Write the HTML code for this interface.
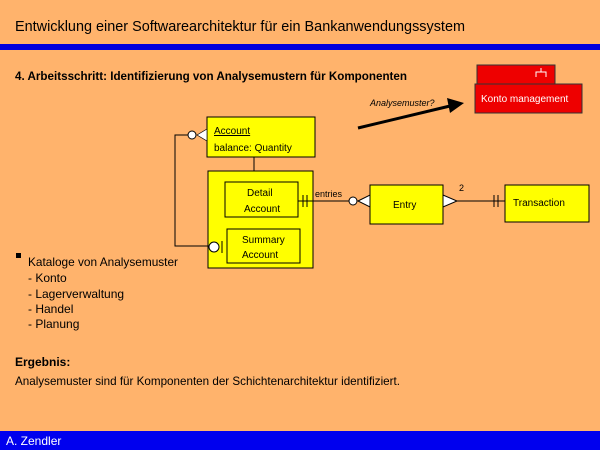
<!DOCTYPE html>
<html><head><meta charset="utf-8"><style>
body{margin:0;width:600px;height:450px;background:#FFB36C;overflow:hidden;font-family:"Liberation Sans",sans-serif}
svg{position:absolute;left:0;top:0}
</style></head><body>
<svg width="600" height="450" viewBox="0 0 600 450" font-family="Liberation Sans, sans-serif">
<rect x="0" y="0" width="600" height="450" fill="#FFB36C"/>
<text x="15" y="31" font-size="15" fill="#000" textLength="450" lengthAdjust="spacingAndGlyphs">Entwicklung einer Softwarearchitektur für ein Bankanwendungssystem</text>
<rect x="0" y="44" width="600" height="6" fill="#0000DD"/>
<text x="15" y="80" font-size="12" font-weight="bold" fill="#000" textLength="392" lengthAdjust="spacingAndGlyphs">4. Arbeitsschritt: Identifizierung von Analysemustern für Komponenten</text>
<rect x="477" y="65" width="78" height="20" fill="#EE0000" stroke="#333" stroke-width="1"/>
<path d="M536 77v-5h10v5M541 72v-4" stroke="#fff" fill="none"/>
<rect x="475" y="84" width="107" height="29" fill="#EE0000" stroke="#333" stroke-width="1"/>
<text x="481" y="102" font-size="10" fill="#fff">Konto management</text>
<text x="370" y="106" font-size="9" font-style="italic" fill="#000">Analysemuster?</text>
<line x1="358" y1="128" x2="450" y2="106" stroke="#000" stroke-width="3"/>
<polygon points="464,103 447,98 450,113" fill="#000"/>
<rect x="207" y="117" width="108" height="40" fill="#FFFF00" stroke="#000"/>
<text x="214" y="134" font-size="10" text-decoration="underline">Account</text>
<text x="214" y="151" font-size="10">balance: Quantity</text>
<line x1="254" y1="157" x2="254" y2="171" stroke="#000"/>
<rect x="208" y="171" width="105" height="97" fill="#FFFF00" stroke="#000"/>
<rect x="225" y="182" width="73" height="35" fill="#FFFF00" stroke="#000"/>
<text x="247" y="196" font-size="10">Detail</text>
<text x="244" y="212" font-size="10">Account</text>
<rect x="227" y="229" width="73" height="34" fill="#FFFF00" stroke="#000"/>
<text x="242" y="243" font-size="10">Summary</text>
<text x="242" y="258" font-size="10">Account</text>
<polyline points="191,135 175,135 175,246 209,246" fill="none" stroke="#000"/>
<circle cx="192" cy="135" r="4" fill="#fff" stroke="#000"/>
<polygon points="197,135 207,129 207,141" fill="#fff" stroke="#000" stroke-width="0.7"/>
<circle cx="214" cy="247" r="5" fill="#fff" stroke="#000"/>
<line x1="222" y1="241" x2="222" y2="253" stroke="#000"/>
<line x1="298" y1="201" x2="350" y2="201" stroke="#000"/>
<line x1="303" y1="195" x2="303" y2="207" stroke="#000"/>
<line x1="307" y1="195" x2="307" y2="207" stroke="#000"/>
<text x="315" y="197" font-size="9">entries</text>
<circle cx="353" cy="201" r="4" fill="#fff" stroke="#000"/>
<polygon points="358,201 370,195 370,207" fill="#fff" stroke="#000"/>
<rect x="370" y="185" width="73" height="39" fill="#FFFF00" stroke="#000"/>
<text x="393" y="208" font-size="10">Entry</text>
<polygon points="443,195 443,207 457,201" fill="#fff" stroke="#000"/>
<line x1="457" y1="201" x2="505" y2="201" stroke="#000"/>
<line x1="494" y1="195" x2="494" y2="207" stroke="#000"/>
<line x1="498" y1="195" x2="498" y2="207" stroke="#000"/>
<text x="459" y="191" font-size="9">2</text>
<rect x="505" y="185" width="84" height="37" fill="#FFFF00" stroke="#000"/>
<text x="513" y="206" font-size="10">Transaction</text>
<rect x="16" y="253" width="5" height="5" fill="#000"/>
<text x="28" y="266" font-size="12" textLength="150" lengthAdjust="spacingAndGlyphs">Kataloge von Analysemuster</text>
<text x="28" y="282" font-size="12">- Konto</text>
<text x="28" y="298" font-size="12">- Lagerverwaltung</text>
<text x="28" y="313" font-size="12">- Handel</text>
<text x="28" y="328" font-size="12">- Planung</text>
<text x="15" y="366" font-size="12" font-weight="bold">Ergebnis:</text>
<text x="15" y="385" font-size="12" textLength="385" lengthAdjust="spacingAndGlyphs">Analysemuster sind für Komponenten der Schichtenarchitektur identifiziert.</text>
<rect x="0" y="431" width="600" height="19" fill="#0000EE"/>
<text x="6" y="445" font-size="12" fill="#fff">A. Zendler</text>
</svg>
</body></html>
